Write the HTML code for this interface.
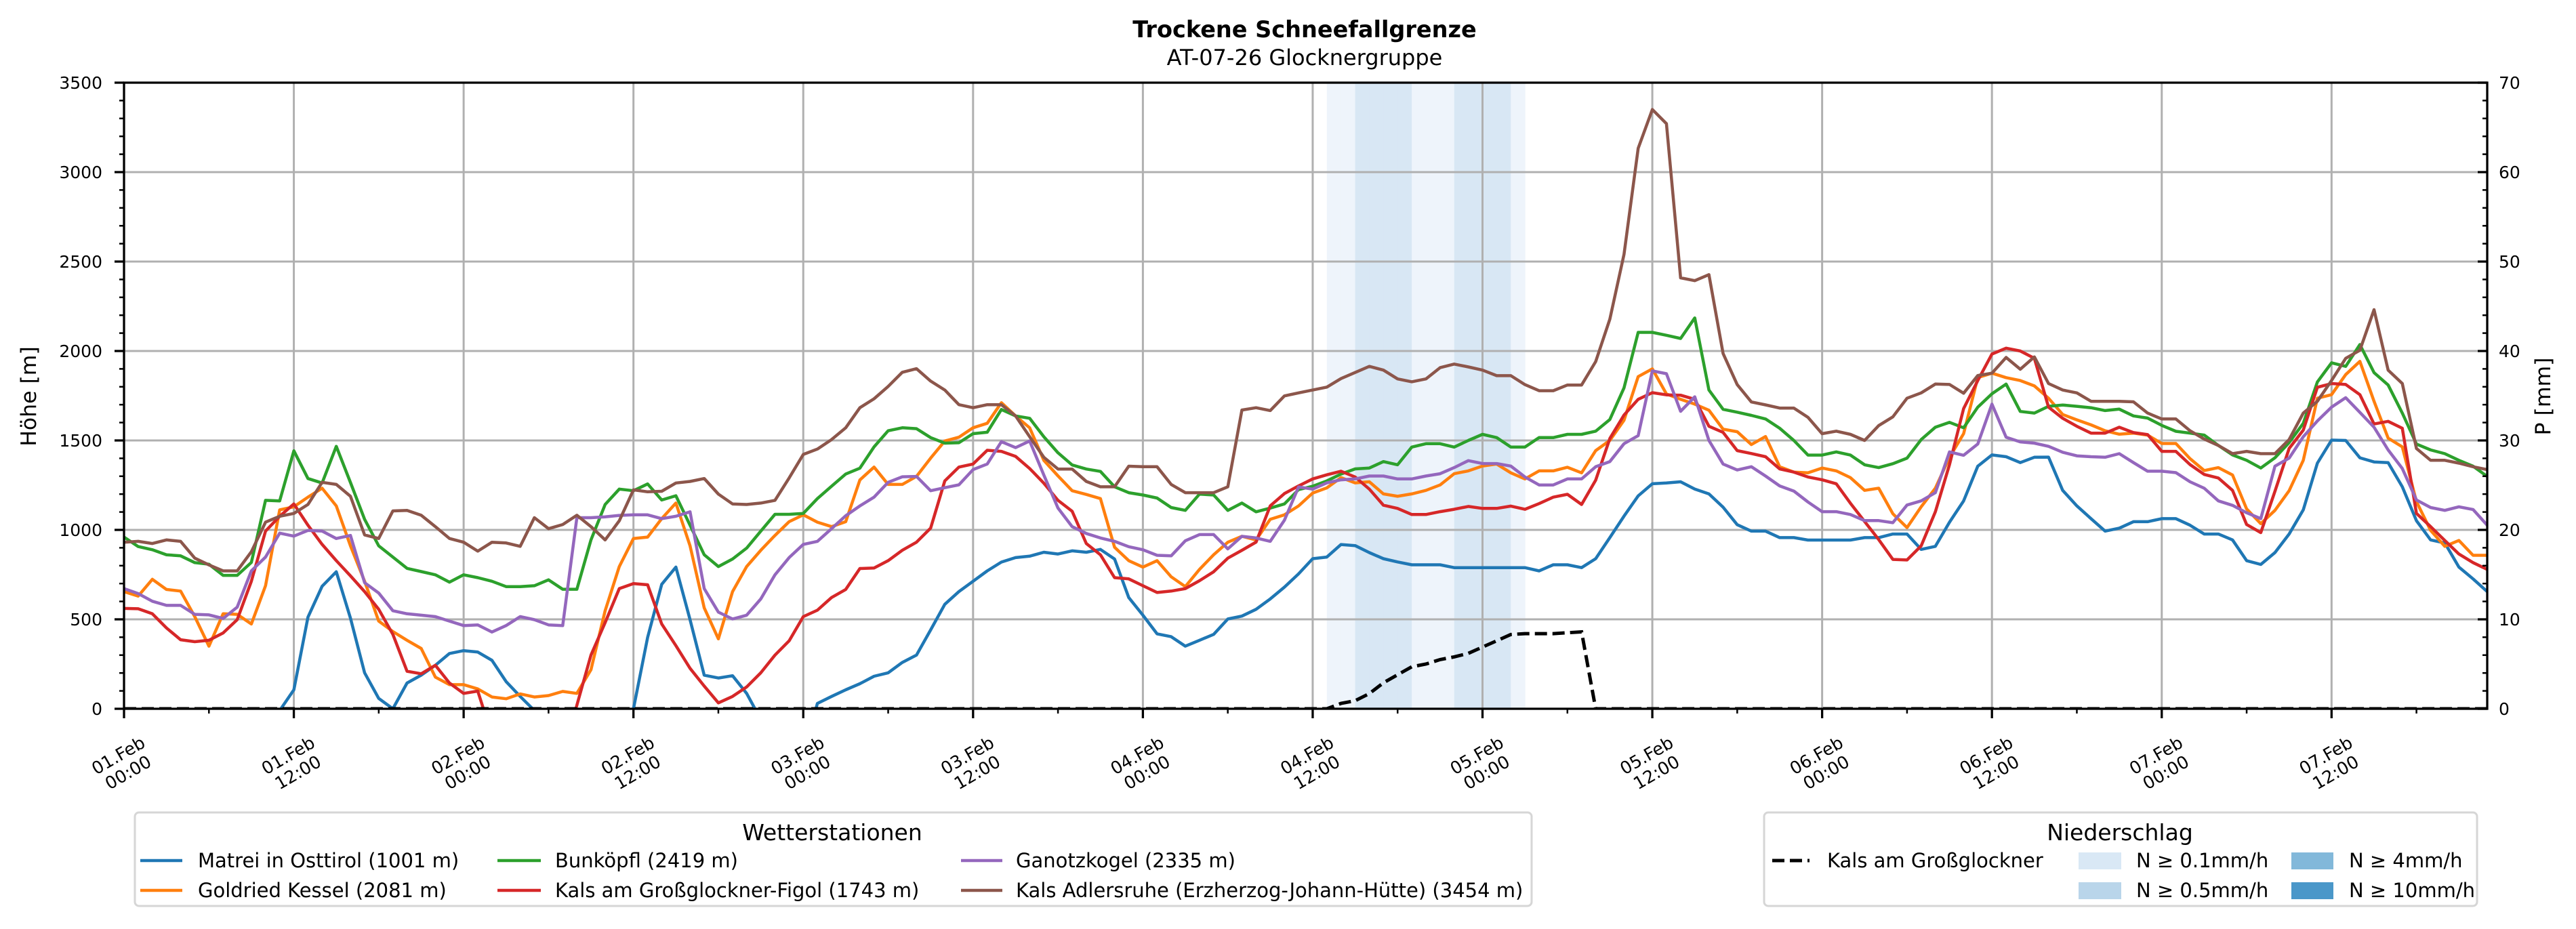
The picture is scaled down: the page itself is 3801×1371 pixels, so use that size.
<!DOCTYPE html>
<html><head><meta charset="utf-8"><title>Trockene Schneefallgrenze</title>
<style>
html,body{margin:0;padding:0;background:#fff;}
svg{display:block;font-family:"DejaVu Sans","Liberation Sans",sans-serif;}
</style></head>
<body>
<svg id="chart" width="3801" height="1371" viewBox="0 0 3801 1371" xmlns="http://www.w3.org/2000/svg">
<defs><clipPath id="plotclip"><rect x="183" y="122" width="3487" height="924"/></clipPath></defs>
<rect x="0" y="0" width="3801" height="1371" fill="#fff"/>
<text x="1925" y="55" font-size="33.5" font-weight="bold" text-anchor="middle">Trockene Schneefallgrenze</text>
<text x="1925" y="96" font-size="32" text-anchor="middle">AT-07-26 Glocknergruppe</text>
<g id="bands" clip-path="url(#plotclip)"></g>
<g id="grid"></g>
<g id="series" clip-path="url(#plotclip)"></g>
<g id="axes"></g>
<text x="0" y="0" font-size="31.5" text-anchor="middle" transform="translate(53,585) rotate(-90)">Höhe [m]</text>
<text x="0" y="0" font-size="31.5" text-anchor="middle" transform="translate(3763,585) rotate(-90)">P [mm]</text>

<g>
<rect x="199" y="1199" width="2061" height="138" rx="6" fill="#fff" stroke="#d6d6d6" stroke-width="3"/>
<text x="1228" y="1240" font-size="33" text-anchor="middle">Wetterstationen</text>
<g font-size="29">
<g><line x1="207" y1="1270" x2="269" y2="1270" stroke="#1f77b4" stroke-width="4.5"/><text x="292" y="1280">Matrei in Osttirol (1001 m)</text></g>
<g><line x1="207" y1="1314" x2="269" y2="1314" stroke="#ff7f0e" stroke-width="4.5"/><text x="292" y="1324">Goldried Kessel (2081 m)</text></g>
<g><line x1="734" y1="1270" x2="798" y2="1270" stroke="#2ca02c" stroke-width="4.5"/><text x="819" y="1280">Bunköpfl (2419 m)</text></g>
<g><line x1="734" y1="1314" x2="798" y2="1314" stroke="#d62728" stroke-width="4.5"/><text x="819" y="1324">Kals am Großglockner-Figol (1743 m)</text></g>
<g><line x1="1418" y1="1270" x2="1479" y2="1270" stroke="#9467bd" stroke-width="4.5"/><text x="1499" y="1280">Ganotzkogel (2335 m)</text></g>
<g><line x1="1418" y1="1314" x2="1479" y2="1314" stroke="#8c564b" stroke-width="4.5"/><text x="1499" y="1324">Kals Adlersruhe (Erzherzog-Johann-Hütte) (3454 m)</text></g>
</g>
</g>

<g>
<rect x="2603" y="1199" width="1052" height="138" rx="6" fill="#fff" stroke="#d6d6d6" stroke-width="3"/>
<text x="3128" y="1240" font-size="33" text-anchor="middle">Niederschlag</text>
<g font-size="29">
<g><line x1="2615" y1="1270" x2="2670" y2="1270" stroke="#000" stroke-width="5" stroke-dasharray="18,8"/><text x="2696" y="1280">Kals am Großglockner</text></g>
<g><rect x="3067" y="1258" width="63" height="25" fill="#d9e8f5"/><text x="3152" y="1280">N ≥ 0.1mm/h</text></g>
<g><rect x="3067" y="1302" width="63" height="25" fill="#b9d5ea"/><text x="3152" y="1324">N ≥ 0.5mm/h</text></g>
<g><rect x="3381" y="1258" width="62" height="25" fill="#82b8da"/><text x="3466" y="1280">N ≥ 4mm/h</text></g>
<g><rect x="3381" y="1302" width="62" height="25" fill="#4a97c9"/><text x="3466" y="1324">N ≥ 10mm/h</text></g>
</g>
</g>
</svg>
<script>
const xTickLabels = ["01.Feb|00:00","01.Feb|12:00","02.Feb|00:00","02.Feb|12:00","03.Feb|00:00","03.Feb|12:00","04.Feb|00:00","04.Feb|12:00","05.Feb|00:00","05.Feb|12:00","06.Feb|00:00","06.Feb|12:00","07.Feb|00:00","07.Feb|12:00"];
const yTicks = [0,500,1000,1500,2000,2500,3000,3500];
const y2Ticks = [0,10,20,30,40,50,60,70];
const matrei = [-400,-400,-450,-450,-450,-450,-500,-450,-400,-300,-150,-10,106,512,685,766,507,201,58,0,144,188,243,309,325,317,271,152,69,-10,-200,-300,-300,-300,-300,-200,0,399,696,792,498,188,172,185,86,-60,-200,-300,-250,30,69,106,140,182,201,259,300,441,584,655,713,771,820,845,853,875,865,883,875,891,837,622,523,419,403,350,383,416,502,518,556,614,680,754,839,848,918,912,873,839,821,805,805,805,789,789,789,789,789,789,771,805,805,789,839,957,1077,1190,1258,1262,1269,1228,1201,1127,1029,993,993,957,957,943,943,943,943,957,957,977,977,891,908,1043,1162,1356,1419,1409,1376,1406,1407,1221,1134,1063,993,1010,1046,1046,1063,1063,1026,977,977,944,828,807,873,977,1112,1373,1502,1500,1403,1380,1376,1241,1051,944,927,792,726,655];
const goldried = [655,630,724,667,658,515,350,531,528,474,688,1112,1129,1183,1233,1134,911,713,490,432,383,337,177,135,135,111,66,56,83,66,74,97,86,218,548,795,952,960,1063,1150,911,564,391,655,795,886,969,1046,1084,1043,1018,1046,1279,1351,1254,1254,1299,1401,1497,1518,1571,1596,1711,1637,1571,1389,1302,1219,1198,1175,903,828,792,828,738,683,779,861,931,964,944,1059,1084,1134,1206,1235,1292,1263,1269,1201,1188,1201,1221,1251,1314,1330,1357,1368,1319,1285,1330,1330,1350,1319,1443,1500,1613,1857,1900,1760,1730,1703,1669,1563,1549,1477,1522,1353,1323,1319,1346,1330,1292,1221,1233,1090,1013,1129,1233,1406,1538,1851,1876,1851,1835,1805,1736,1645,1615,1587,1554,1535,1541,1530,1483,1483,1398,1332,1348,1307,1117,1035,1109,1219,1389,1736,1756,1868,1942,1719,1513,1464,1158,997,908,941,858,858];
const bunkoepfl = [960,907,889,861,855,817,808,746,746,818,1165,1162,1442,1287,1262,1467,1265,1059,911,848,785,767,749,708,749,733,713,683,683,688,721,668,668,944,1142,1228,1219,1257,1167,1191,1026,861,795,837,898,993,1087,1087,1092,1175,1244,1312,1345,1464,1554,1571,1566,1516,1485,1487,1538,1546,1673,1637,1624,1521,1431,1363,1340,1327,1241,1208,1195,1178,1125,1109,1200,1195,1109,1150,1101,1122,1145,1225,1244,1274,1312,1341,1346,1382,1364,1463,1482,1482,1463,1500,1534,1516,1463,1463,1516,1516,1534,1534,1552,1617,1794,2104,2104,2088,2070,2185,1782,1674,1658,1640,1620,1568,1500,1418,1418,1436,1418,1364,1348,1370,1401,1505,1574,1601,1571,1686,1761,1815,1662,1653,1691,1698,1691,1683,1667,1675,1637,1625,1584,1551,1541,1530,1472,1419,1389,1346,1403,1488,1596,1827,1934,1914,2036,1879,1810,1653,1480,1447,1426,1389,1356,1299];
const kalsFigol = [561,559,531,452,386,375,383,424,498,713,993,1076,1145,1026,919,828,743,655,556,416,210,196,243,144,86,99,-150,-350,-400,-400,-350,-300,20,300,482,672,700,693,474,353,226,127,33,69,122,201,300,380,515,551,622,667,784,787,828,886,931,1010,1274,1351,1368,1445,1439,1411,1343,1261,1165,1104,924,861,733,726,688,650,658,672,716,766,842,886,932,1134,1203,1246,1285,1308,1328,1296,1228,1138,1120,1086,1086,1102,1115,1131,1120,1120,1133,1115,1147,1183,1199,1142,1278,1511,1642,1730,1767,1755,1753,1730,1579,1545,1443,1427,1409,1341,1323,1296,1280,1258,1149,1047,946,835,832,911,1101,1365,1678,1835,1983,2016,2000,1959,1686,1624,1579,1541,1541,1574,1544,1533,1439,1439,1365,1310,1290,1221,1030,985,1216,1455,1558,1797,1818,1813,1756,1592,1607,1568,1092,1018,941,865,817,779];
const ganotzkogel = [672,644,601,578,578,528,525,505,568,771,848,982,965,997,993,952,969,705,647,548,531,523,515,490,465,469,429,465,515,498,469,465,1068,1068,1073,1081,1084,1084,1063,1076,1101,672,540,502,523,614,749,845,919,936,1007,1079,1134,1183,1266,1297,1299,1219,1236,1252,1337,1368,1493,1460,1497,1307,1122,1018,980,955,936,906,889,858,855,939,974,974,894,964,955,936,1054,1240,1228,1263,1280,1285,1301,1301,1285,1285,1301,1314,1348,1387,1371,1371,1357,1296,1251,1251,1285,1285,1353,1382,1482,1527,1889,1873,1663,1744,1500,1368,1335,1353,1301,1246,1217,1156,1102,1102,1086,1052,1052,1040,1139,1162,1208,1436,1417,1480,1703,1518,1492,1485,1467,1434,1414,1409,1406,1426,1376,1328,1328,1320,1269,1233,1162,1137,1096,1063,1356,1401,1521,1609,1686,1739,1657,1574,1447,1343,1167,1125,1109,1129,1114,1026];
const adlersruhe = [931,936,924,944,936,842,804,771,771,878,1043,1076,1092,1142,1266,1254,1188,972,952,1106,1109,1082,1018,952,931,881,931,927,908,1068,1007,1030,1082,1018,944,1051,1224,1213,1216,1262,1271,1287,1200,1145,1142,1150,1165,1290,1422,1452,1505,1571,1683,1733,1802,1881,1901,1832,1782,1700,1683,1700,1700,1637,1521,1406,1340,1340,1271,1241,1241,1356,1353,1353,1254,1208,1208,1208,1241,1670,1683,1667,1749,1766,1782,1798,1846,1880,1914,1893,1844,1828,1844,1907,1927,1911,1893,1862,1862,1812,1778,1778,1810,1810,1941,2178,2540,3133,3350,3271,2409,2393,2427,1986,1812,1715,1699,1681,1681,1629,1538,1552,1534,1500,1583,1632,1736,1766,1815,1813,1764,1863,1876,1964,1898,1967,1818,1782,1766,1719,1719,1719,1716,1653,1620,1620,1554,1508,1472,1426,1439,1426,1426,1505,1653,1719,1835,1959,2004,2231,1893,1818,1455,1389,1389,1373,1353,1337];
const precipHours = [0,84,85,86,87,88,89,90,91,92,93,94,95,96,97,98,99,100,101,102,103,104,167];
const precipValues = [0,0,0,0.6,0.9,1.7,2.9,3.8,4.7,5.0,5.5,5.8,6.2,6.9,7.6,8.3,8.4,8.4,8.4,8.5,8.6,0,0];
const bandHours = [85,86,87,88,89,90,91,92,93,94,95,96,97,98];
const bandLevels = [1,1,2,2,2,2,1,1,1,2,2,2,2,1];

const NS='http://www.w3.org/2000/svg';
const X0=183, X1=3670, Y0=1046, Y1=122, HMAX=167;
function xs(h){return X0+h*(X1-X0)/HMAX;}
function ys(v){return Y0-v*(Y0-Y1)/3500;}
function y2s(v){return Y0-v*(Y0-Y1)/70;}
function mk(tag,attrs,parent){const e=document.createElementNS(NS,tag);for(const k in attrs)e.setAttribute(k,attrs[k]);parent.appendChild(e);return e;}

const bands=document.getElementById('bands');
const bandColors=['#ffffff','#eef4fb','#d8e7f4','#9cc6e2','#6aa8d4'];
bandHours.forEach((h,i)=>{
  const r=mk('rect',{x:xs(h),y:Y1,width:xs(h+1)-xs(h)+0.5,height:Y0-Y1,fill:bandColors[bandLevels[i]]},bands);
  
  
});

const grid=document.getElementById('grid');
xTickLabels.forEach((l,i)=>{const x=xs(i*12);
  const g=mk('line',{x1:x,y1:Y1,x2:x,y2:Y0,stroke:'#b0b0b0','stroke-width':3},grid);
  
  
});
yTicks.forEach(v=>{const y=ys(v);
  const g=mk('line',{x1:X0,y1:y,x2:X1,y2:y,stroke:'#b0b0b0','stroke-width':3},grid);
  
  
});

const series=document.getElementById('series');
const defs=[[matrei,'#1f77b4','line-matrei'],[goldried,'#ff7f0e','line-goldried'],[bunkoepfl,'#2ca02c','line-bunkoepfl'],[kalsFigol,'#d62728','line-kals-figol'],[ganotzkogel,'#9467bd','line-ganotzkogel'],[adlersruhe,'#8c564b','line-adlersruhe']];
defs.forEach(d=>{
  const pts=d[0].map((v,h)=>xs(h).toFixed(1)+','+ys(v).toFixed(1)).join(' ');
  const p=mk('polyline',{points:pts,fill:'none',stroke:d[1],'stroke-width':4.5,'stroke-linejoin':'round'},series);
  
  
});
const ppts=precipHours.map((h,i)=>xs(h).toFixed(1)+','+y2s(precipValues[i]).toFixed(1)).join(' ');
const pl=mk('polyline',{points:ppts,fill:'none',stroke:'#000','stroke-width':5,'stroke-dasharray':'18,8'},series);



const axes=document.getElementById('axes');
mk('rect',{x:X0,y:Y1,width:X1-X0,height:Y0-Y1,fill:'none',stroke:'#000','stroke-width':3.3},axes);
for(let v=0;v<=3500;v+=100){const y=ys(v);const major=v%500===0;
  mk('line',{x1:X0-(major?14:7),y1:y,x2:X0,y2:y,stroke:'#000','stroke-width':major?3.3:2.5},axes);}
yTicks.forEach(v=>{
  const t=mk('text',{x:151,y:ys(v)+9,'font-size':25,'text-anchor':'end'},axes);t.textContent=v;
  
  
});
for(let v=0;v<=70;v+=2){const y=y2s(v);const major=v%10===0;
  mk('line',{x1:X1-(major?14:7),y1:y,x2:X1,y2:y,stroke:'#000','stroke-width':major?3.3:2.5},axes);}
y2Ticks.forEach(v=>{
  const t=mk('text',{x:3687,y:y2s(v)+9,'font-size':25},axes);t.textContent=v;
  
  
});
for(let h=0;h<=HMAX;h+=6){const x=xs(h);const major=h%12===0;
  mk('line',{x1:x,y1:Y0,x2:x,y2:Y0+(major?14:7),stroke:'#000','stroke-width':major?3.3:2.5},axes);}
xTickLabels.forEach((l,i)=>{const x=xs(i*12)-2, y=1126;const parts=l.split('|');
  const t=mk('text',{x:x,y:y,'font-size':25.5,'text-anchor':'middle',transform:'rotate(-30 '+x+' '+y+')'},axes);
  
  
  mk('tspan',{x:x,dy:'-4'},t).textContent=parts[0];
  mk('tspan',{x:x,dy:'29'},t).textContent=parts[1];
});
</script>
</body></html>
